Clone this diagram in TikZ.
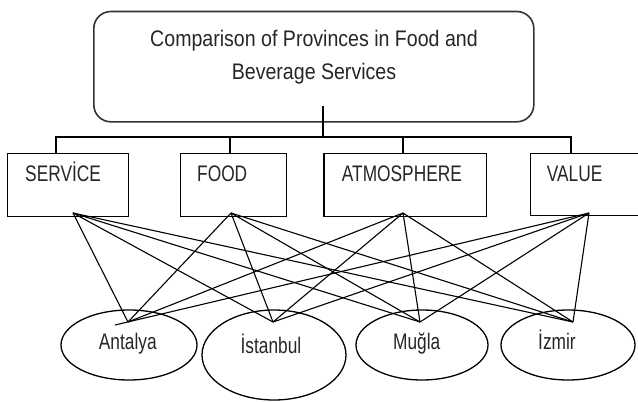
\documentclass[tikz,border=0pt]{standalone}
\usepackage{fontspec}
\setmainfont{Liberation Sans}
\newfontfamily\narrowfont{Liberation Sans}[FakeStretch=0.77]
\newfontfamily\titlefont{Liberation Sans}[FakeStretch=0.87]
\usetikzlibrary{shapes.geometric}
\definecolor{txtc}{gray}{0.15}
\begin{document}
\begin{tikzpicture}[x=1pt,y=-1pt,
  boxst/.style={draw=black, line width=1.4pt, rectangle, inner sep=0pt, anchor=north west},
  ellst/.style={draw=black, line width=1.3pt, ellipse, inner sep=0pt},
  conn/.style={draw=black, line width=1.1pt},
  lbl/.style={inner sep=0pt, text=txtc, font=\narrowfont\fontsize{22.5}{27}\selectfont},
  ttl/.style={inner sep=0pt, text=txtc, font=\titlefont\fontsize{22.5}{27}\selectfont}]
\useasboundingbox (0,0) rectangle (638,402);
% title
\node[boxst, draw=black!80, line width=1.6pt, rounded corners=17pt, minimum width=440pt, minimum height=110.3pt] (title) at (93,10.7) {};
\node[ttl, anchor=base] (t1) at (314,46.7) {Comparison of Provinces in Food and};
\node[ttl, anchor=base] (t2) at (314,79.3) {Beverage Services};
\coordinate (tiS) at (323,106);
\coordinate (bus) at (323,137);
\draw[conn] (tiS) -- (bus);
% criteria boxes
\node[boxst, minimum width=121pt, minimum height=63pt] (sv) at (7,153) {};
\node[boxst, minimum width=106pt, minimum height=63pt] (fd) at (180,153) {};
\node[boxst, minimum width=162.4pt, minimum height=63pt] (at) at (323.3,153) {};
\node[boxst, minimum width=120pt, minimum height=62pt] (va) at (530,153) {};
\node[lbl, anchor=base west] (svl) at (25,181.5) {SERVİCE};
\node[lbl, anchor=base west] (fdl) at (197,181.5) {FOOD};
\node[lbl, anchor=base west] (atl) at (341.7,181.5) {ATMOSPHERE};
\node[lbl, anchor=base west] (val) at (546.7,181.5) {VALUE};
\coordinate (svT) at (56,153);
\coordinate (fdT) at (230,153);
\coordinate (atT) at (403,153);
\coordinate (vaT) at (571,153);
\draw[conn] (svT) -- (svT |- bus) -- (vaT |- bus) -- (vaT);
\draw[conn] (fdT) -- (fdT |- bus);
\draw[conn] (atT) -- (atT |- bus);
% provinces
\node[ellst, minimum width=136pt, minimum height=70pt] (an) at (129,345) {};
\node[ellst, minimum width=144pt, minimum height=90pt] (is) at (274,355) {};
\node[ellst, minimum width=132pt, minimum height=70pt] (mu) at (422,345) {};
\node[ellst, minimum width=134pt, minimum height=70pt] (iz) at (568,345) {};
\node[lbl, anchor=base] (anl) at (127.8,349) {Antalya};
\node[lbl, anchor=base] (isl) at (271,353.5) {İstanbul};
\node[lbl, anchor=base] (mul) at (416.7,349.3) {Muğla};
\node[lbl, anchor=base] (izl) at (557,349) {İzmir};
% connectors
\coordinate (svB) at (73,213);
\coordinate (fdB) at (231,213);
\coordinate (atB) at (403,213);
\coordinate (vaB) at (589,213);
\coordinate (anT) at (128,322);
\coordinate (anX) at (115,325);
\coordinate (isT) at (273,322);
\coordinate (muT) at (420,322);
\coordinate (izT) at (573,322);
\foreach \a in {svB,fdB,atB}{
  \foreach \b in {anT,isT,muT,izT}{
    \draw[conn] (\a) -- (\b);
  }
}
\foreach \b in {anX,isT,muT,izT}{
  \draw[conn] (vaB) -- (\b);
}
\end{tikzpicture}
\end{document}
